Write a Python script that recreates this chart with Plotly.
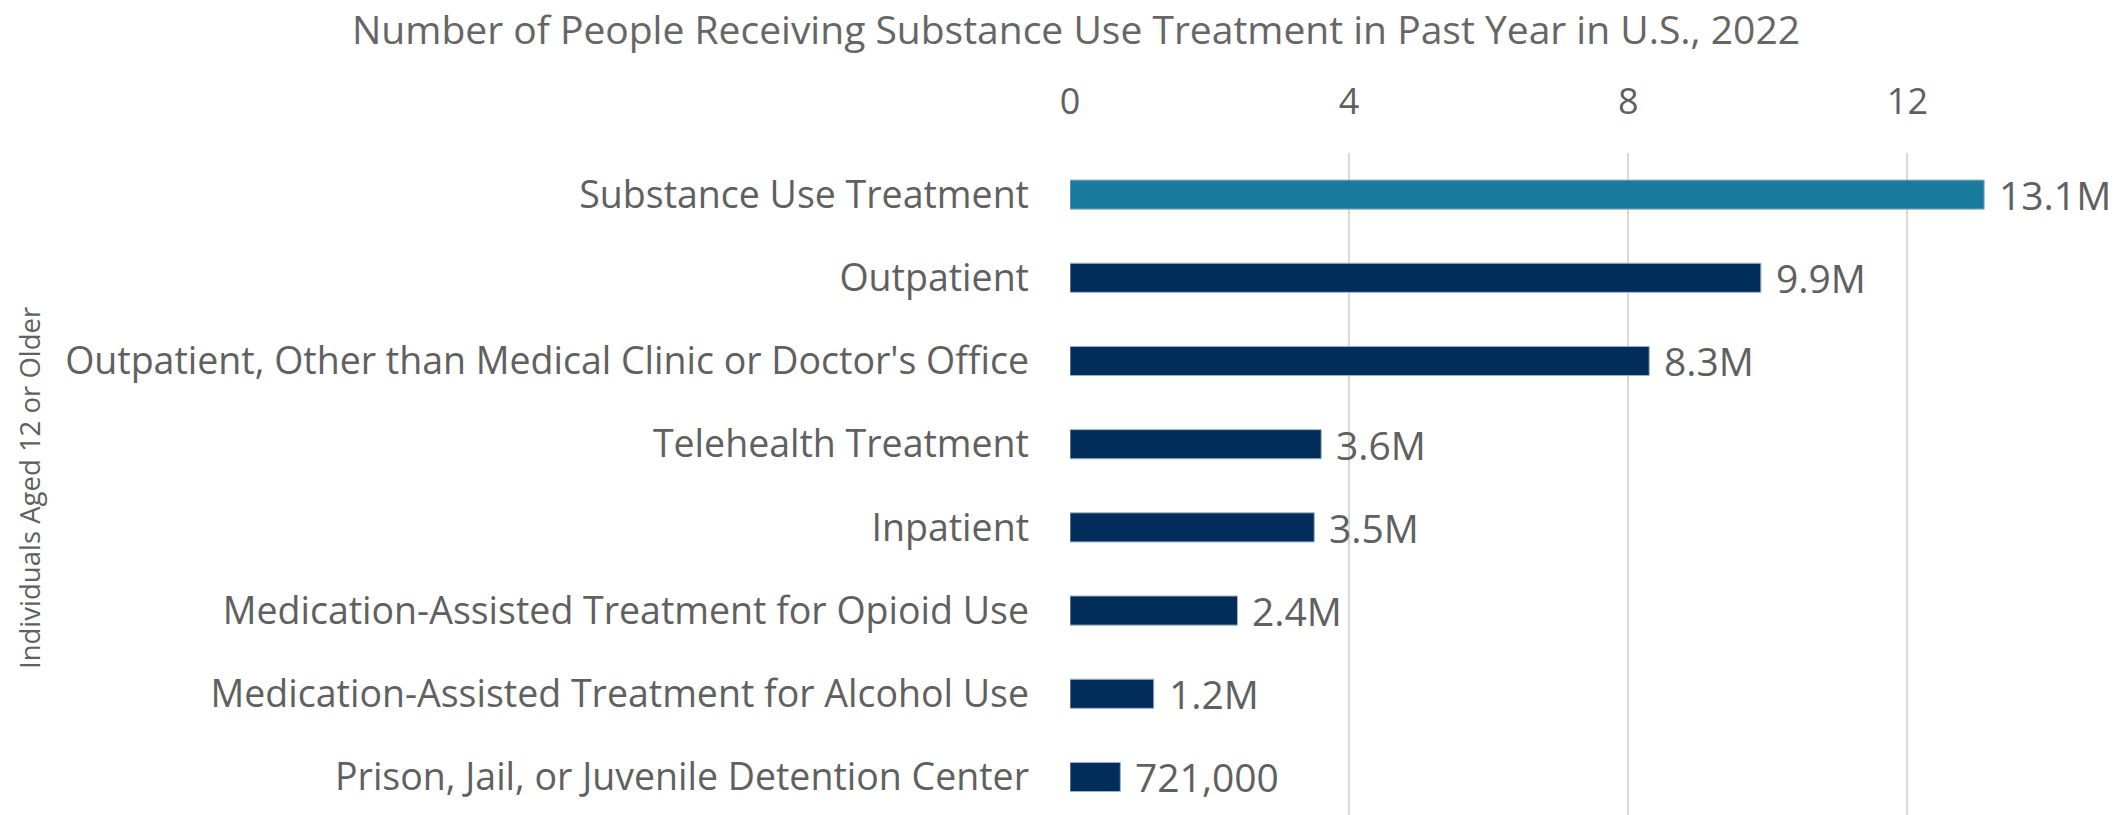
import plotly.graph_objects as go

# Past-year substance use treatment, people aged 12+ (millions)
categories = [
    "Substance Use Treatment",
    "Outpatient",
    "Outpatient, Other than Medical Clinic or Doctor's Office",
    "Telehealth Treatment",
    "Inpatient",
    "Medication-Assisted Treatment for Opioid Use",
    "Medication-Assisted Treatment for Alcohol Use",
    "Prison, Jail, or Juvenile Detention Center",
]
values_millions = [13.1, 9.9, 8.3, 3.6, 3.5, 2.4, 1.2, 0.721]
x_ticks = [0, 4, 8, 12]

TEAL = "#187B9D"
NAVY = "#002D59"
GREY = "#606060"
FONT = "Open Sans, sans-serif"


def fmt(v):
    return f"{v:.1f}M" if v >= 1 else f"{v * 1e6:,.0f}"


bar_colors = [TEAL] + [NAVY] * (len(categories) - 1)

fig = go.Figure(
    go.Bar(
        x=values_millions,
        y=categories,
        orientation="h",
        marker=dict(color=bar_colors, line=dict(color="#9fb3c8", width=1)),
        hoverinfo="x+y",
    )
)

# value labels sit just past the end of each bar
for v, c in zip(values_millions, categories):
    fig.add_annotation(
        x=v, y=c, xref="x", yref="y", text=fmt(v), showarrow=False,
        xanchor="left", yanchor="middle", xshift=13,
        font=dict(family=FONT, size=39, color=GREY),
    )

W, H = 2126, 815
L, R, T, B = 1070, 79, 153, 0

# vertical axis caption
fig.add_annotation(
    text="Individuals Aged 12 or Older", textangle=-90, showarrow=False,
    xref="paper", yref="paper",
    x=(30 - L) / (W - L - R), y=(H - 488) / (H - T - B),
    xanchor="center", yanchor="middle",
    font=dict(family=FONT, size=27.5, color=GREY),
)

fig.update_layout(
    width=W, height=H,
    margin=dict(l=L, r=R, t=T, b=B, pad=0),
    paper_bgcolor="white", plot_bgcolor="white",
    bargap=0.65,
    showlegend=False,
    title=dict(
        text="Number of People Receiving Substance Use Treatment in Past Year in U.S., 2022",
        xref="container", yref="container",
        x=1076 / W, y=1 - 30 / H, xanchor="center", yanchor="middle",
        font=dict(family=FONT, size=39, color="#666666"),
    ),
    xaxis=dict(
        side="top", range=[0, 14], tickvals=x_ticks, ticktext=[str(t) for t in x_ticks],
        showgrid=True, gridcolor="#D9D9D9", gridwidth=2,
        zeroline=False, showline=False, ticks="",
        tickfont=dict(family=FONT, size=36, color=GREY),
        ticklabelstandoff=31,
        fixedrange=True,
    ),
    yaxis=dict(
        type="category", categoryorder="array", categoryarray=categories,
        range=[7.457, -0.5],
        showgrid=False, zeroline=False, showline=False, ticks="",
        tickfont=dict(family=FONT, size=37.5, color=GREY),
        ticklabelstandoff=40,
        fixedrange=True,
    ),
)

fig.write_html("out.html")
